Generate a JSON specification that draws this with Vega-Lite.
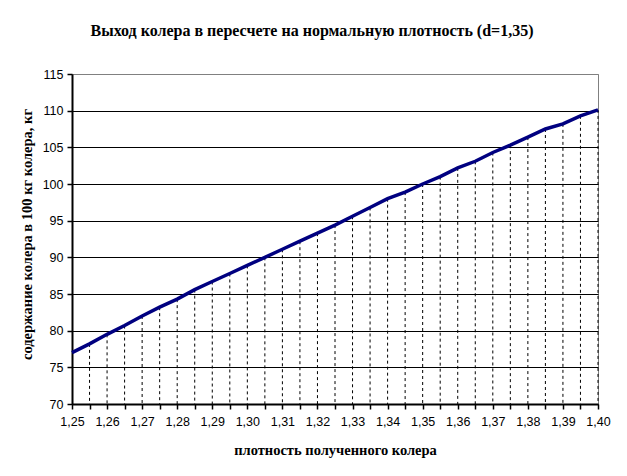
{
  "$schema": "https://vega.github.io/schema/vega-lite/v6.json",
  "width": 526,
  "height": 330,
  "autosize": {"type": "none"},
  "padding": {"left": 72, "top": 74, "right": 29, "bottom": 72},
  "title": {
    "text": "Выход колера в пересчете на нормальную плотность (d=1,35)",
    "font": "Liberation Serif",
    "fontSize": 16,
    "fontWeight": "bold",
    "color": "black",
    "anchor": "middle",
    "dx": -23,
    "offset": 29
  },
  "config": {
    "background": "white",
    "view": {"stroke": "#808080", "strokeWidth": 1}
  },
  "data": {
    "values": [
      {"density": 1.250, "yield": 77.0},
      {"density": 1.255, "yield": 78.2},
      {"density": 1.260, "yield": 79.5},
      {"density": 1.265, "yield": 80.7},
      {"density": 1.270, "yield": 82.0},
      {"density": 1.275, "yield": 83.2},
      {"density": 1.280, "yield": 84.3},
      {"density": 1.285, "yield": 85.6},
      {"density": 1.290, "yield": 86.7},
      {"density": 1.295, "yield": 87.8},
      {"density": 1.300, "yield": 88.9},
      {"density": 1.305, "yield": 90.0},
      {"density": 1.310, "yield": 91.1},
      {"density": 1.315, "yield": 92.2},
      {"density": 1.320, "yield": 93.3},
      {"density": 1.325, "yield": 94.4},
      {"density": 1.330, "yield": 95.6},
      {"density": 1.335, "yield": 96.8},
      {"density": 1.340, "yield": 98.0},
      {"density": 1.345, "yield": 98.9},
      {"density": 1.350, "yield": 100.0},
      {"density": 1.355, "yield": 101.0},
      {"density": 1.360, "yield": 102.2},
      {"density": 1.365, "yield": 103.1},
      {"density": 1.370, "yield": 104.3},
      {"density": 1.375, "yield": 105.3},
      {"density": 1.380, "yield": 106.4},
      {"density": 1.385, "yield": 107.5},
      {"density": 1.390, "yield": 108.2},
      {"density": 1.395, "yield": 109.3},
      {"density": 1.400, "yield": 110.1}
    ]
  },
  "encoding": {
    "x": {
      "field": "density",
      "type": "quantitative",
      "scale": {"domain": [1.25, 1.4], "nice": false, "zero": false},
      "axis": {
        "title": "плотность полученного колера",
        "titleFont": "Liberation Serif",
        "titleFontSize": 14.5,
        "titleFontWeight": "bold",
        "titleColor": "black",
        "titlePadding": 16,
        "values": [1.25, 1.255, 1.26, 1.265, 1.27, 1.275, 1.28, 1.285, 1.29, 1.295, 1.3, 1.305, 1.31, 1.315, 1.32, 1.325, 1.33, 1.335, 1.34, 1.345, 1.35, 1.355, 1.36, 1.365, 1.37, 1.375, 1.38, 1.385, 1.39, 1.395, 1.4],
        "labelExpr": "round(datum.value * 1000) % 10 == 0 ? replace(format(datum.value, '.2f'), '.', ',') : ''",
        "labelOverlap": false,
        "labelFlush": false,
        "labelBound": false,
        "labelFont": "Liberation Sans",
        "labelFontSize": 12.5,
        "labelColor": "black",
        "labelPadding": 6,
        "grid": false,
        "domainColor": "black",
        "domainWidth": 2,
        "tickColor": "black",
        "tickWidth": 1.5,
        "tickSize": 5
      }
    },
    "y": {
      "field": "yield",
      "type": "quantitative",
      "scale": {"domain": [70, 115], "nice": false, "zero": false},
      "axis": {
        "title": "содержание колера в 100 кг колера, кг",
        "titleFont": "Liberation Serif",
        "titleFontSize": 14.5,
        "titleFontWeight": "bold",
        "titleColor": "black",
        "titleAngle": -90,
        "titleX": -45,
        "titleY": 160,
        "titleAlign": "center",
        "titleBaseline": "middle",
        "values": [70, 75, 80, 85, 90, 95, 100, 105, 110, 115],
        "labelFont": "Liberation Sans",
        "labelFontSize": 12.5,
        "labelColor": "black",
        "labelPadding": 4,
        "grid": true,
        "gridColor": {"condition": {"test": "datum.value == 115", "value": "#808080"}, "value": "black"},
        "gridWidth": 1,
        "domainColor": "black",
        "domainWidth": 2,
        "tickColor": "black",
        "tickWidth": 1.5,
        "tickSize": 5
      }
    }
  },
  "layer": [
    {
      "transform": [{"filter": "datum.density > 1.251"}],
      "mark": {"type": "rule", "color": "black", "strokeWidth": 1, "strokeDash": [3, 3]},
      "encoding": {"y2": {"datum": 70}}
    },
    {
      "mark": {"type": "line", "color": "#000080", "strokeWidth": 3.5}
    }
  ]
}
